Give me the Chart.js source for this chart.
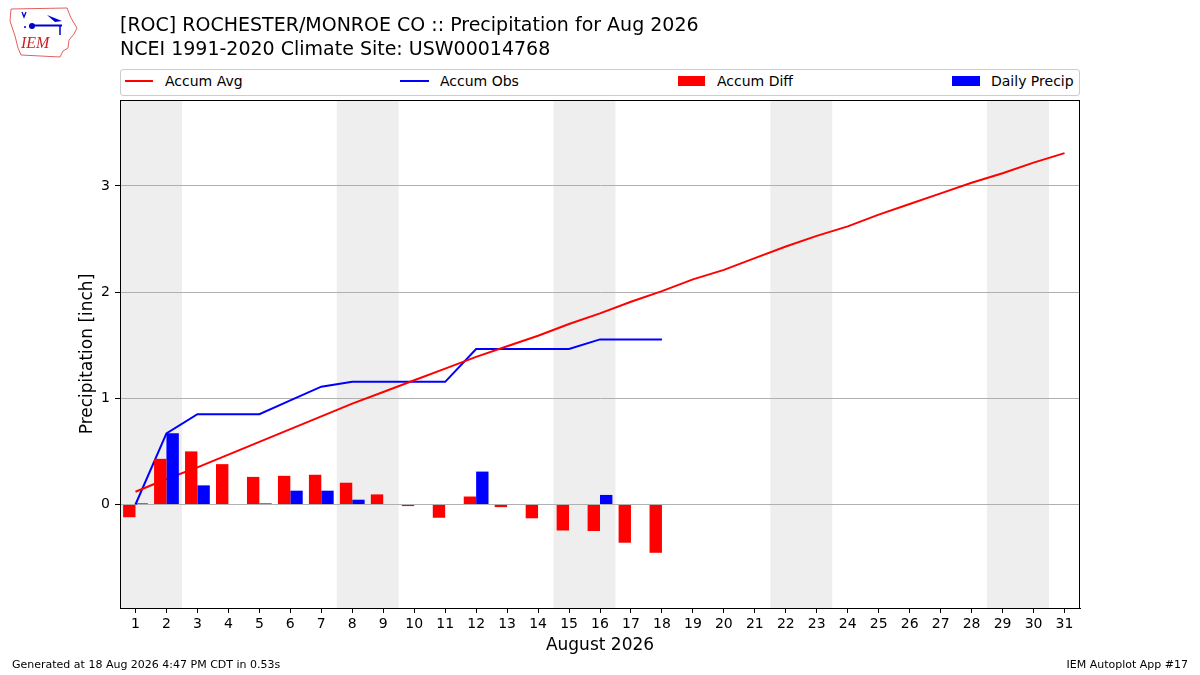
<!DOCTYPE html>
<html>
<head>
<meta charset="utf-8">
<script src="https://cdn.jsdelivr.net/npm/chart.js@4"></script>
<style>
  html, body { margin:0; padding:0; background:#fff; }
  body { width:1200px; height:675px; position:relative; overflow:hidden; font-family:"DejaVu Sans", sans-serif; color:#000; }
  #chart { position:absolute; left:0; top:0; }
  .t { position:absolute; white-space:nowrap; }
  .title { font-size:19px; line-height:24px; left:120px; }
  .leg { font-size:14px; line-height:16px; top:73px; }
  .sw { position:absolute; }
  #legbox { position:absolute; left:120px; top:69px; width:958px; height:25px; border:1px solid #cccccc; border-radius:3px; background:#fff; }
  .foot { font-size:11px; line-height:13px; top:658px; }
</style>
</head>
<body>
<canvas id="chart" width="1200" height="675"></canvas>

<svg style="position:absolute;left:0;top:0" width="90" height="62">
  <polygon points="11,9 67,8 69,13 71,18 77,28 74,34 69,40 68,48 63,51 60,57 21,55 18,48 15,36 10,21" fill="none" stroke="#e06060" stroke-width="1"/>
  <line x1="31" y1="25.5" x2="62" y2="25.5" stroke="#0000cc" stroke-width="2"/>
  <circle cx="32" cy="26" r="3" fill="#0000cc"/>
  <path d="M47,15 L62,21 L55,22 Z" fill="#0000cc"/>
  <path d="M22,12 L24,17 L26,12" fill="none" stroke="#0000cc" stroke-width="1.3"/>
  <circle cx="25" cy="27" r="1" fill="#0000cc"/>
  <line x1="60" y1="25" x2="60" y2="35" stroke="#0000cc" stroke-width="1.5"/>
  <text x="21" y="48" font-family="Liberation Serif, serif" font-style="italic" font-size="16" fill="#cc2222">IEM</text>
</svg>

<div class="t title" style="top:12px">[ROC] ROCHESTER/MONROE CO :: Precipitation for Aug 2026</div>
<div class="t title" style="top:36px">NCEI 1991-2020 Climate Site: USW00014768</div>

<div id="legbox"></div>
<div class="sw" style="left:125px;top:80px;width:28px;height:2px;background:#ff0000"></div>
<div class="t leg" style="left:165px">Accum Avg</div>
<div class="sw" style="left:400px;top:80px;width:29px;height:2px;background:#0000ff"></div>
<div class="t leg" style="left:440px">Accum Obs</div>
<div class="sw" style="left:678px;top:76px;width:27px;height:10px;background:#ff0000"></div>
<div class="t leg" style="left:717px">Accum Diff</div>
<div class="sw" style="left:952px;top:76px;width:28px;height:10px;background:#0000ff"></div>
<div class="t leg" style="left:991px">Daily Precip</div>

<div class="t foot" style="left:12px">Generated at 18 Aug 2026 4:47 PM CDT in 0.53s</div>
<div class="t foot" style="right:12px">IEM Autoplot App #17</div>

<script>
// ---- data ----
const days = Array.from({length: 31}, (_, i) => i + 1);
const obsDays = days.slice(0, 18);
const accumAvg = [0.12,0.24,0.35,0.47,0.59,0.71,0.83,0.95,1.06,1.17,1.28,1.39,1.49,1.59,1.70,1.80,1.91,2.01,2.12,2.21,2.32,2.43,2.53,2.62,2.73,2.83,2.93,3.03,3.12,3.22,3.31];
const accumObs = [0.00,0.67,0.85,0.85,0.85,0.98,1.11,1.155,1.155,1.155,1.155,1.465,1.465,1.465,1.465,1.555,1.555,1.555];
const accumDiff = [-0.12,0.43,0.50,0.38,0.26,0.27,0.28,0.205,0.095,-0.015,-0.125,0.075,-0.025,-0.13,-0.245,-0.25,-0.36,-0.455];
const dailyPrecip = [0.01,0.67,0.18,0,0.01,0.13,0.13,0.045,0,0,0,0.31,0,0,0,0.09,0,0];
const weekendSpans = [[0.5,2.5],[7.5,9.5],[14.5,16.5],[21.5,23.5],[28.5,30.5]];
const yTicks = [0, 1, 2, 3];

Chart.defaults.font.family = '"DejaVu Sans", sans-serif';
Chart.defaults.color = '#000';

const pts = (xs, ys) => xs.map((x, i) => ({x: x, y: ys[i]}));

const bgPlugin = {
  id: 'bg',
  beforeDraw(chart) {
    const {ctx, chartArea: a, scales: {x}} = chart;
    ctx.save();
    ctx.fillStyle = '#ffffff';
    ctx.fillRect(0, 0, chart.width, chart.height);
    ctx.fillStyle = '#eeeeee';
    weekendSpans.forEach(([s, e]) => {
      const x0 = x.getPixelForValue(s), x1 = x.getPixelForValue(e);
      ctx.fillRect(x0, a.top, x1 - x0, a.bottom - a.top);
    });
    ctx.restore();
  },
  afterDraw(chart) {
    const {ctx, chartArea: a} = chart;
    ctx.save();
    ctx.strokeStyle = '#000';
    ctx.lineWidth = 1;
    ctx.strokeRect(Math.round(a.left) + 0.5, Math.round(a.top) + 0.5, Math.round(a.right - a.left) - 1, Math.round(a.bottom - a.top));
    ctx.restore();
  }
};

new Chart(document.getElementById('chart'), {
  type: 'bar',
  data: {
    datasets: [
      { type: 'line', label: 'Accum Avg', data: pts(days, accumAvg), borderColor: '#ff0000', borderWidth: 2, pointRadius: 0, tension: 0, order: 2 },
      { type: 'line', label: 'Accum Obs', data: pts(obsDays, accumObs), borderColor: '#0000ff', borderWidth: 2, pointRadius: 0, tension: 0, order: 2 },
      { type: 'bar', label: 'Accum Diff', data: pts(obsDays, accumDiff), backgroundColor: '#ff0000', categoryPercentage: 0.8, barPercentage: 1.0, order: 1 },
      { type: 'bar', label: 'Daily Precip', data: pts(obsDays, dailyPrecip), backgroundColor: '#0000ff', categoryPercentage: 0.8, barPercentage: 1.0, order: 1 }
    ]
  },
  options: {
    responsive: false,
    animation: false,
    devicePixelRatio: 1,
    layout: { padding: { top: 100, right: 120, left: 0, bottom: 0 } },
    plugins: { legend: { display: false }, tooltip: { enabled: false }, title: { display: false } },
    scales: {
      x: {
        type: 'linear', min: 0.5, max: 31.5, offset: false,
        afterBuildTicks(s) { s.ticks = days.map(v => ({value: v})); },
        afterFit(s) { s.height = 67; },
        grid: { display: true, drawOnChartArea: false, drawTicks: true, tickLength: 5, tickColor: '#000', offset: false },
        border: { display: true, color: '#000', width: 1 },
        ticks: { font: { size: 14 }, padding: 3, maxRotation: 0, autoSkip: false, color: '#000' },
        title: { display: true, text: 'August 2026', font: { size: 17 }, padding: { top: 0, bottom: 19 }, color: '#000' }
      },
      y: {
        type: 'linear', min: -0.975, max: 3.81,
        afterBuildTicks(s) { s.ticks = yTicks.map(v => ({value: v})); },
        afterFit(s) { s.width = 120; },
        grid: { display: true, color: '#b0b0b0', lineWidth: 1, drawTicks: true, tickLength: 5, tickColor: '#000' },
        border: { display: true, color: '#000', width: 1 },
        ticks: { font: { size: 14 }, padding: 5, color: '#000' },
        title: { display: true, text: 'Precipitation [inch]', font: { size: 17 }, padding: { top: 77, bottom: 0 }, color: '#000' }
      }
    }
  },
  plugins: [bgPlugin]
});
</script>
</body>
</html>
